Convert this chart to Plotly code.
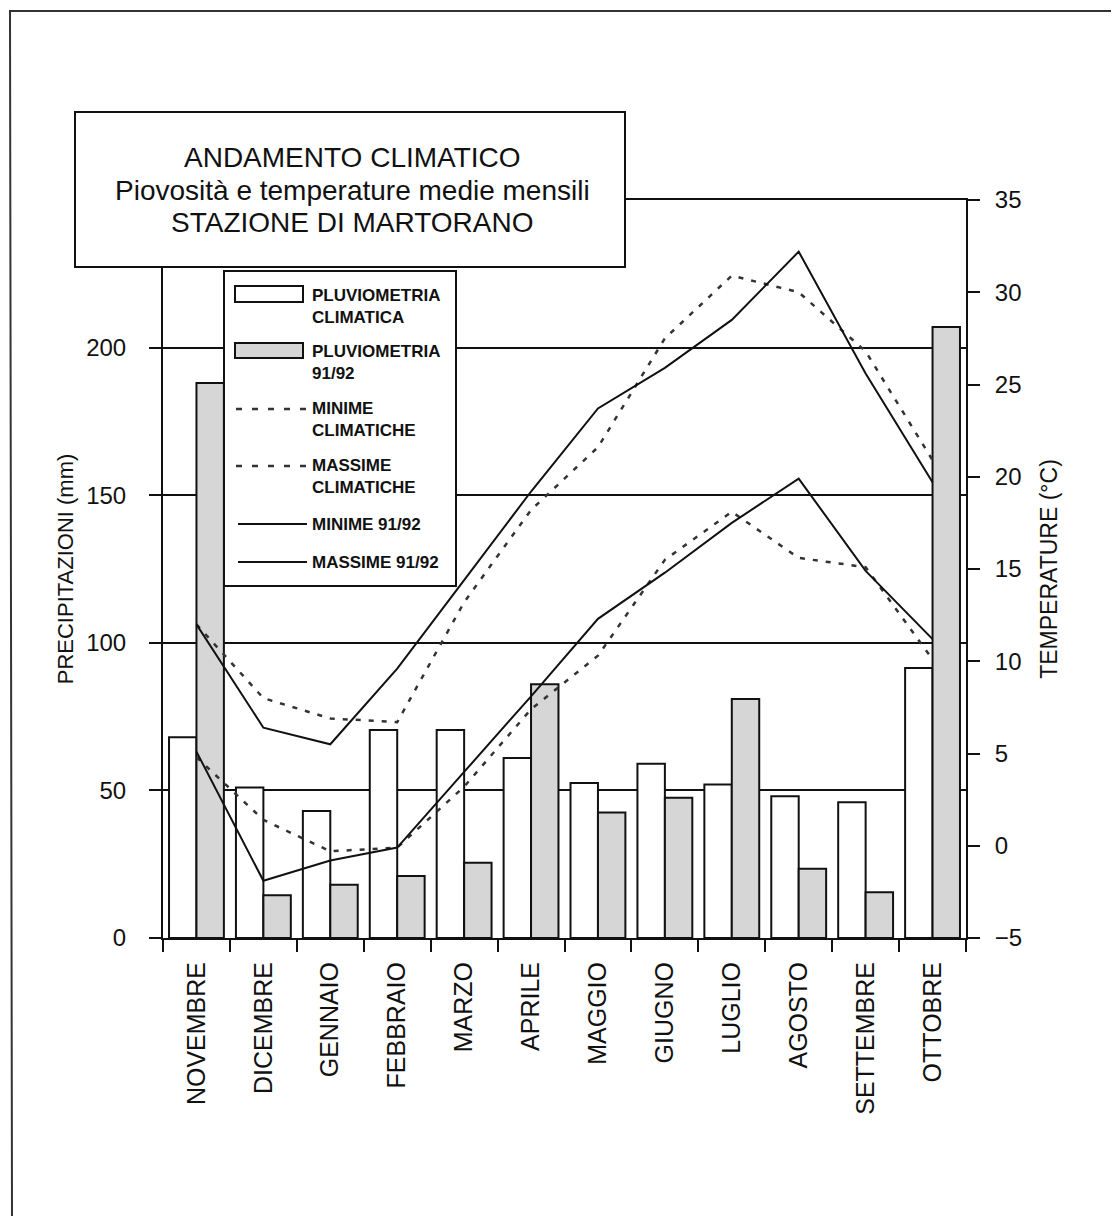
import plotly.graph_objects as go

# ---------------- data ----------------
months = ["NOVEMBRE", "DICEMBRE", "GENNAIO", "FEBBRAIO", "MARZO", "APRILE",
          "MAGGIO", "GIUGNO", "LUGLIO", "AGOSTO", "SETTEMBRE", "OTTOBRE"]
pluv_clim = [68, 51, 43, 70.5, 70.5, 61, 52.5, 59, 52, 48, 46, 91.5]
pluv_9192 = [188, 14.5, 18, 21, 25.5, 86, 42.5, 47.5, 81, 23.5, 15.5, 207]
min_clim = [4.8, 1.4, -0.3, -0.1, 3.2, 7.4, 10.3, 15.5, 18.1, 15.6, 15.1, 10.1]
max_clim = [12.0, 8.0, 6.9, 6.7, 13.2, 18.2, 21.6, 27.5, 30.9, 30.0, 26.8, 20.9]
min_9192 = [5.1, -1.9, -0.8, -0.1, 4.0, 8.1, 12.3, 14.8, 17.5, 19.9, 14.9, 11.2]
max_9192 = [12.0, 6.4, 5.5, 9.6, 14.4, 19.2, 23.7, 25.9, 28.5, 32.2, 25.6, 19.7]

left_ticks = [0, 50, 100, 150, 200]
right_ticks = [-5, 0, 5, 10, 15, 20, 25, 30, 35]

title_lines = ["ANDAMENTO CLIMATICO",
               "Piovosità e temperature medie mensili",
               "STAZIONE DI MARTORANO"]
legend_names = ["PLUVIOMETRIA<br>CLIMATICA", "PLUVIOMETRIA<br>91/92",
                "MINIME<br>CLIMATICHE", "MASSIME<br>CLIMATICHE",
                "MINIME 91/92", "MASSIME 91/92"]

# ---------------- layout geometry (page pixels) ----------------
W, H = 1119, 1216
OFF = 8               # page body margin offset of the plot div
X0, X1 = 163, 966     # plot area left/right (page coords)
Y0, Y1 = 938, 200     # plot area bottom/top (page coords)

def px(x):
    return (x - X0) / (X1 - X0)

def py(y):
    return (Y0 - y) / (Y0 - Y1)

FONT = "Liberation Sans, Arial, Helvetica, sans-serif"
GRAY = "#d6d6d6"
BLACK = "#111111"

fig = go.Figure()

fig.add_trace(go.Bar(x=months, y=pluv_clim, name="PLUVIOMETRIA CLIMATICA",
                     marker=dict(color="white", line=dict(color=BLACK, width=2)),
                     showlegend=False))
fig.add_trace(go.Bar(x=months, y=pluv_9192, name="PLUVIOMETRIA 91/92",
                     marker=dict(color=GRAY, line=dict(color=BLACK, width=2)),
                     showlegend=False))

dash = "5px,8px"
fig.add_trace(go.Scatter(x=months, y=min_clim, yaxis="y2", mode="lines",
                         name="MINIME CLIMATICHE",
                         line=dict(color="#333333", width=2.5, dash=dash),
                         showlegend=False))
fig.add_trace(go.Scatter(x=months, y=max_clim, yaxis="y2", mode="lines",
                         name="MASSIME CLIMATICHE",
                         line=dict(color="#333333", width=2.5, dash=dash),
                         showlegend=False))
fig.add_trace(go.Scatter(x=months, y=min_9192, yaxis="y2", mode="lines",
                         name="MINIME 91/92",
                         line=dict(color=BLACK, width=2),
                         showlegend=False))
fig.add_trace(go.Scatter(x=months, y=max_9192, yaxis="y2", mode="lines",
                         name="MASSIME 91/92",
                         line=dict(color=BLACK, width=2),
                         showlegend=False))

shapes = []
# page border (top, left, right)
shapes.append(dict(type="path", xref="paper", yref="paper",
                   path=f"M {px(12)} {py(1216)} L {px(10)} {py(11)} L {px(1112)} {py(11)} L {px(1112)} {py(1216)}",
                   line=dict(color="#333333", width=2), layer="above"))
# title box
shapes.append(dict(type="rect", xref="paper", yref="paper",
                   x0=px(75), x1=px(625), y0=py(267), y1=py(112),
                   fillcolor="white", line=dict(color=BLACK, width=2), layer="above"))
# legend box
shapes.append(dict(type="rect", xref="paper", yref="paper",
                   x0=px(224), x1=px(456), y0=py(586), y1=py(271),
                   fillcolor="white", line=dict(color=BLACK, width=2), layer="above"))
# legend symbols
shapes.append(dict(type="rect", xref="paper", yref="paper",
                   x0=px(235), x1=px(303), y0=py(302), y1=py(286),
                   fillcolor="white", line=dict(color=BLACK, width=2), layer="above"))
shapes.append(dict(type="rect", xref="paper", yref="paper",
                   x0=px(235), x1=px(303), y0=py(358), y1=py(343),
                   fillcolor=GRAY, line=dict(color=BLACK, width=2), layer="above"))
for yy in (409, 466):
    shapes.append(dict(type="line", xref="paper", yref="paper",
                       x0=px(236), x1=px(308), y0=py(yy), y1=py(yy),
                       line=dict(color="#333333", width=2.5, dash="6px,10px"), layer="above"))
for yy in (524, 562):
    shapes.append(dict(type="line", xref="paper", yref="paper",
                       x0=px(238), x1=px(307), y0=py(yy), y1=py(yy),
                       line=dict(color=BLACK, width=2), layer="above"))

annotations = []
# title lines
for txt, yy in zip(title_lines, (157, 190, 222)):
    annotations.append(dict(text=txt, xref="paper", yref="paper",
                            x=px(352), y=py(yy), xanchor="center", yanchor="middle",
                            showarrow=False, font=dict(family=FONT, size=28, color=BLACK)))
# legend text
leg_y = [306, 362, 419, 476, 524, 562]
for txt, yy in zip(legend_names, leg_y):
    annotations.append(dict(text="<b>" + txt + "</b>", xref="paper", yref="paper",
                            x=px(310), y=py(yy), xanchor="left", yanchor="middle",
                            align="left", showarrow=False,
                            font=dict(family=FONT, size=17, color=BLACK)))

fig.update_layout(
    width=W, height=H,
    autosize=False,
    margin=dict(l=X0 - OFF, r=W - (X1 - OFF), t=Y1 - OFF, b=H - (Y0 - OFF), pad=0),
    paper_bgcolor="white", plot_bgcolor="white",
    barmode="group", bargap=0.18, bargroupgap=0.0,
    font=dict(family=FONT, color=BLACK),
    showlegend=False,
    shapes=shapes,
    annotations=annotations,
    xaxis=dict(
        type="category", showline=True, linecolor=BLACK, linewidth=2, mirror=True,
        ticks="outside", ticklen=12, tickwidth=2, tickcolor=BLACK,
        tickson="boundaries", tickangle=-90, showgrid=False,
        ticklabelstandoff=12,
        tickfont=dict(family=FONT, size=25, color=BLACK),
    ),
    yaxis=dict(
        range=[0, 250], tickvals=left_ticks, showline=True, linecolor=BLACK, linewidth=2,
        ticks="outside", ticklen=12, tickwidth=2, tickcolor=BLACK,
        showgrid=True, gridcolor=BLACK, gridwidth=2, zeroline=False,
        ticklabelstandoff=18,
        tickfont=dict(family=FONT, size=24, color=BLACK),
        title=dict(text="PRECIPITAZIONI (mm)", standoff=6,
                   font=dict(family=FONT, size=22, color=BLACK)),
    ),
    yaxis2=dict(
        range=[-5, 35], tickvals=right_ticks, overlaying="y", side="right",
        showline=True, linecolor=BLACK, linewidth=2,
        ticks="outside", ticklen=12, tickwidth=2, tickcolor=BLACK,
        showgrid=False, zeroline=False,
        ticklabelstandoff=10,
        tickfont=dict(family=FONT, size=24, color=BLACK),
        title=dict(text="TEMPERATURE (°C)", standoff=20,
                   font=dict(family=FONT, size=23, color=BLACK)),
    ),
)

fig.write_html("out.html")
